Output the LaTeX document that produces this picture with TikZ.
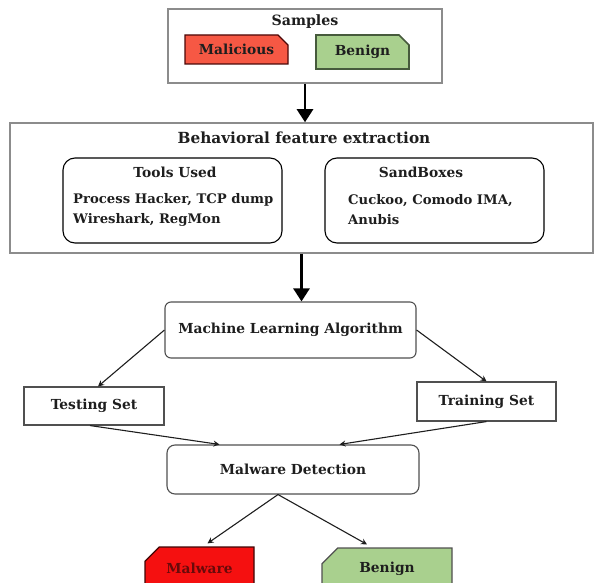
\documentclass[tikz,border=0pt]{standalone}
\usepackage{fontspec}
\setmainfont{DejaVu Serif}
\usetikzlibrary{arrows.meta,shapes.misc}
\definecolor{FrameGray}{RGB}{140,140,140}
\definecolor{BoxGray}{RGB}{80,80,80}
\definecolor{Tomato}{RGB}{246,88,68}
\definecolor{Leaf}{RGB}{169,208,142}
\definecolor{LeafLine}{RGB}{70,90,60}
\definecolor{Alarm}{RGB}{245,16,16}
\definecolor{G-dark}{RGB}{30,30,30}
\definecolor{Wine}{RGB}{105,10,10}

\tikzset{
  lbl/.style={font=\fontsize{13.8}{20}\selectfont\bfseries, text=G-dark, inner sep=0pt},
  listlbl/.style={lbl, font=\fontsize{13.2}{20}\selectfont\bfseries, anchor=west, align=left},
  plainbox/.style={draw=BoxGray, line width=1.1pt, fill=white, inner sep=0pt},
  tagbox/.style={chamfered rectangle, line width=1.2pt, inner sep=0pt,
    font=\fontsize{13.8}{16}\selectfont\bfseries},
  bigarrow/.style={-{Triangle[length=13pt,width=16pt]}, line width=2.6pt, draw=black},
  smallarrow/.style={-{Stealth[length=6pt,width=6pt]}, line width=1.1pt, draw=G-dark}
}

\begin{document}
\begin{tikzpicture}[x=1pt,y=-1pt]
\useasboundingbox (0,0) rectangle (597,583);

\node[plainbox, draw=FrameGray, line width=1.8pt, minimum width=274pt, minimum height=74pt] (samples) at (305,46) {};
\node[lbl, font=\fontsize{14.2}{16}\selectfont\bfseries] (samplesT) at (305,22) {Samples};
\node[tagbox, draw=Wine!70!black, fill=Tomato, text=G-dark, minimum width=103pt, minimum height=29pt,
  chamfered rectangle corners=north east, chamfered rectangle xsep=5pt, chamfered rectangle ysep=5pt] (malicious) at (236.5,49.5) {Malicious};
\node[tagbox, draw=LeafLine, line width=1.6pt, fill=Leaf, text=G-dark, minimum width=93pt, minimum height=34pt,
  chamfered rectangle corners=north east, chamfered rectangle xsep=5pt, chamfered rectangle ysep=5pt] (benignT) at (362.5,52) {Benign};

\node[plainbox, draw=FrameGray, line width=1.5pt, minimum width=583pt, minimum height=130pt] (extract) at (301.5,188) {};
\node[lbl, font=\fontsize{15.3}{18}\selectfont\bfseries] (extractT) at (304,138) {Behavioral feature extraction};

\node[plainbox, draw=black, rounded corners=12pt, minimum width=219pt, minimum height=85pt] (tools) at (172.5,200.5) {};
\node[lbl] (toolsT) at (175,172) {Tools Used};
\node[listlbl] (toolsB) at (73,209.5) {Process Hacker, TCP dump\\Wireshark, RegMon};

\node[plainbox, draw=black, rounded corners=12pt, minimum width=219pt, minimum height=85pt] (sandbox) at (434.5,200.5) {};
\node[lbl] (sandboxT) at (421,172) {SandBoxes};
\node[listlbl] (sandboxB) at (348,209.5) {Cuckoo, Comodo IMA,\\Anubis};

\node[plainbox, rounded corners=6pt, minimum width=251pt, minimum height=56pt] (mla) at (290.5,330) {};
\node[lbl] (mlaT) at (290.5,330) {Machine Learning Algorithm};

\node[plainbox, minimum width=140pt, minimum height=38pt] (testing) at (94,406) {};
\node[lbl] (testingT) at (94,406) {Testing Set};
\node[plainbox, minimum width=139pt, minimum height=39pt] (training) at (486.5,401.5) {};
\node[lbl] (trainingT) at (486.5,401.5) {Training Set};

\node[plainbox, rounded corners=8pt, minimum width=252pt, minimum height=49pt] (detect) at (293,469.5) {};
\node[lbl] (detectT) at (293,469.5) {Malware Detection};

\node[tagbox, draw=Wine!60!black, fill=Alarm, text=Wine, minimum width=109pt, minimum height=42pt,
  chamfered rectangle corners=north west, chamfered rectangle xsep=18pt, chamfered rectangle ysep=9pt] (malware) at (199.5,568) {Malware};
\node[tagbox, draw=BoxGray, fill=Leaf, text=G-dark, minimum width=130pt, minimum height=41pt,
  chamfered rectangle corners=north west, chamfered rectangle xsep=22pt, chamfered rectangle ysep=9pt] (benignB) at (387,568.5) {Benign};

\draw[bigarrow] (samples.south) to (samples.south |- extract.north);
\draw[bigarrow] (extract.south) to (extract.south |- mla.north);
\draw[smallarrow] (mla.west) to ([xshift=4pt]testing.north);
\draw[smallarrow] (mla.east) to (training.north);
\draw[smallarrow] ([xshift=-4pt]testing.south) to ([xshift=53pt]detect.north west);
\draw[smallarrow] (training.south) to ([xshift=-80pt]detect.north east);
\draw[smallarrow] ([xshift=-15pt]detect.south) to ([xshift=8pt,yshift=3pt]malware.north);
\draw[smallarrow] ([xshift=-15pt]detect.south) to ([xshift=-20pt,yshift=3pt]benignB.north);

\end{tikzpicture}
\end{document}
